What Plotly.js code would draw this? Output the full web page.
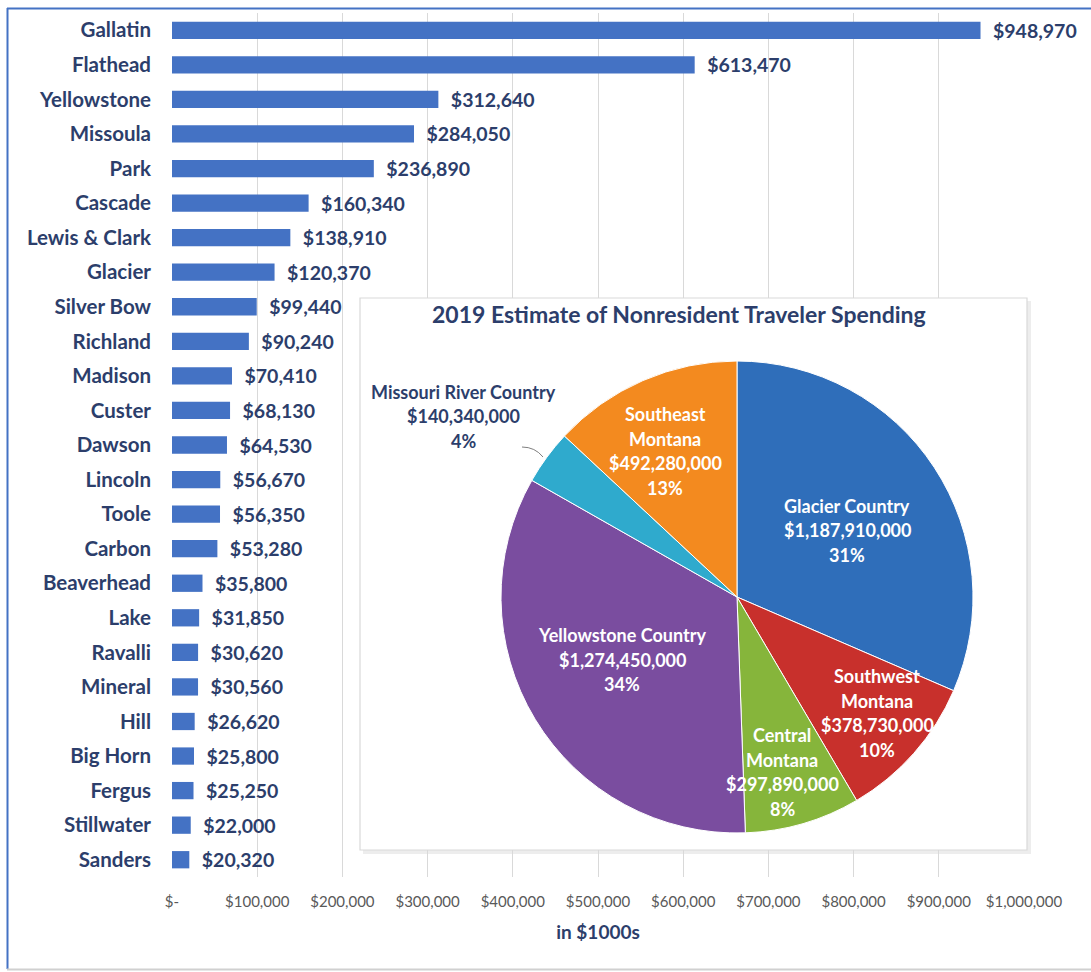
<!DOCTYPE html>
<html>
<head>
<meta charset="utf-8">
<script src="https://cdn.plot.ly/plotly-3.0.1.min.js"></script>
<style>
  html, body { margin: 0; padding: 0; background: #ffffff; }
  #chart { width: 1091px; height: 972px; }
</style>
</head>
<body>
<div id="chart"></div>
<script>
// ---------- Data ----------
const counties = ["Gallatin","Flathead","Yellowstone","Missoula","Park","Cascade","Lewis & Clark","Glacier","Silver Bow","Richland","Madison","Custer","Dawson","Lincoln","Toole","Carbon","Beaverhead","Lake","Ravalli","Mineral","Hill","Big Horn","Fergus","Stillwater","Sanders"];
const spending = [948970,613470,312640,284050,236890,160340,138910,120370,99440,90240,70410,68130,64530,56670,56350,53280,35800,31850,30620,30560,26620,25800,25250,22000,20320];

const tickVals = [0,100000,200000,300000,400000,500000,600000,700000,800000,900000,1000000];
const tickText = ["$-","$100,000","$200,000","$300,000","$400,000","$500,000","$600,000","$700,000","$800,000","$900,000","$1,000,000"];

const regions = ["Glacier Country","Southwest Montana","Central Montana","Yellowstone Country","Missouri River Country","Southeast Montana"];
const regionLabelLines = [["Glacier Country"],["Southwest","Montana"],["Central","Montana"],["Yellowstone Country"],["Missouri River Country"],["Southeast","Montana"]];
const regionValues = [1187910000,378730000,297890000,1274450000,140340000,492280000];

const pieTitle = "2019 Estimate of Nonresident Traveler Spending";
const xAxisTitle = "in $1000s";

// ---------- Styling / layout helpers ----------
const regionColors = ["#2F6EBA","#C8302C","#86B53B","#7A4D9F","#2FAACD","#F38A1F"];
const regionTextColors = ["#ffffff","#ffffff","#ffffff","#ffffff","#2C3E6B","#ffffff"];
// label centres (pixel coords of first line) for pie slice labels
const labelPx = [[847,506],[877,676],[782,735],[622,635],[463,392],[665,414]];

const W = 1091, H = 972;
const M = {l:172, r:67, t:13, b:95};
const PW = W - M.l - M.r, PH = H - M.t - M.b;
const px2x = p => (p - M.l) / PW;
const py2y = p => (H - M.b - p) / PH;

const navy = "#2C3E6B";
const FONT = "Lato, 'Open Sans', sans-serif";

const fmt = v => "$" + v.toLocaleString("en-US");
const total = regionValues.reduce((a,b)=>a+b,0);

// ---------- Traces ----------
const barTrace = {
  type: "bar",
  orientation: "h",
  x: spending,
  y: counties,
  width: 0.5,
  marker: {color: "#4472C4"},
  texttemplate: "\u00A0\u00A0$%{x:,.0f}",
  textposition: "outside",
  cliponaxis: false,
  constraintext: "none",
  textfont: {family: FONT, size: 19.5, color: navy, weight: "bold"},
  hoverinfo: "skip"
};

const pieDomainPx = {cx: 737, cy: 597, r: 236};
const pieTrace = {
  type: "pie",
  labels: regions,
  values: regionValues,
  sort: false,
  direction: "clockwise",
  rotation: 0,
  textinfo: "none",
  marker: {colors: regionColors, line: {color: "#ffffff", width: 1}},
  domain: {
    x: [px2x(pieDomainPx.cx - pieDomainPx.r), px2x(pieDomainPx.cx + pieDomainPx.r)],
    y: [py2y(pieDomainPx.cy + pieDomainPx.r), py2y(pieDomainPx.cy - pieDomainPx.r)]
  },
  showlegend: false,
  hoverinfo: "skip"
};

// ---------- Annotations ----------
const annotations = [];
annotations.push({
  xref: "paper", yref: "paper", x: px2x(679), y: py2y(314),
  text: pieTitle, showarrow: false, xanchor: "center", yanchor: "middle",
  font: {family: FONT, size: 23, color: navy, weight: "bold"}
});
const lineGap = 24.5;
regions.forEach((r, i) => {
  const pct = Math.round(regionValues[i] / total * 100) + "%";
  const lines = regionLabelLines[i].concat([fmt(regionValues[i]), pct]);
  lines.forEach((ln, k) => {
    annotations.push({
      xref: "paper", yref: "paper",
      x: px2x(labelPx[i][0]), y: py2y(labelPx[i][1] + k * lineGap),
      text: ln, showarrow: false, xanchor: "center", yanchor: "middle",
      font: {family: FONT, size: 18, color: regionTextColors[i], weight: "bold"}
    });
  });
});

// ---------- Shapes ----------
const xv = p => (p - M.l) / PW * 1000000;         // pixel -> x data
const yv = p => -0.5 + (p - M.t) / (PH / counties.length); // pixel -> category index
const box = {x0: 360, x1: 1027, y0: 298, y1: 850};
const shapes = [
  // inset shadow (under everything)
  {type: "rect", xref: "paper", yref: "paper", layer: "below",
   x0: px2x(box.x0 + 3), x1: px2x(box.x1 + 4), y0: py2y(box.y0 + 3), y1: py2y(box.y1 + 4),
   fillcolor: "rgba(0,0,0,0.07)", line: {width: 0}},
  {type: "rect", xref: "paper", yref: "paper", layer: "below",
   x0: px2x(box.x0), x1: px2x(box.x1), y0: py2y(box.y0), y1: py2y(box.y1),
   fillcolor: "#ffffff", line: {width: 0}},
  // inset fill hiding the gridlines inside the plot area
  {type: "rect", xref: "x", yref: "y", layer: "between",
   x0: xv(box.x0), x1: 1000000 + 2000, y0: yv(box.y0), y1: yv(box.y1),
   fillcolor: "#ffffff", line: {width: 0}},
  // inset border
  {type: "rect", xref: "paper", yref: "paper", layer: "above",
   x0: px2x(box.x0), x1: px2x(box.x1), y0: py2y(box.y0), y1: py2y(box.y1),
   fillcolor: "rgba(0,0,0,0)", line: {color: "#D9D9D9", width: 1.2}},
  // leader line for Missouri River Country
  {type: "path", xref: "paper", yref: "paper", layer: "above",
   path: `M ${px2x(522)} ${py2y(447)} Q ${px2x(535)} ${py2y(447)} ${px2x(543)} ${py2y(457)}`,
   line: {color: "#7F7F7F", width: 1}},
  // outer frame: left & top blue
  {type: "line", xref: "paper", yref: "paper", layer: "above",
   x0: px2x(7.5), x1: px2x(7.5), y0: py2y(8), y1: py2y(969),
   line: {color: "#4472C4", width: 2}},
  {type: "line", xref: "paper", yref: "paper", layer: "above",
   x0: px2x(7), x1: px2x(1095), y0: py2y(8.5), y1: py2y(8.5),
   line: {color: "#4472C4", width: 2}},
  // bottom gray
  {type: "line", xref: "paper", yref: "paper", layer: "above",
   x0: px2x(7), x1: px2x(1095), y0: py2y(969.5), y1: py2y(969.5),
   line: {color: "#D0D0D0", width: 2}}
];

// ---------- Layout ----------
const layout = {
  width: W, height: H,
  margin: M,
  paper_bgcolor: "rgba(0,0,0,0)",
  plot_bgcolor: "rgba(0,0,0,0)",
  showlegend: false,
  font: {family: FONT, color: navy},
  xaxis: {
    range: [0, 1000000],
    tickvals: tickVals,
    ticktext: tickText,
    showgrid: true,
    gridcolor: "#D9D9D9",
    gridwidth: 1,
    zeroline: false,
    showline: false,
    ticks: "",
    ticklabelstandoff: 14,
    tickfont: {family: FONT, size: 15, color: "#595959"},
    title: {text: xAxisTitle, standoff: 16,
            font: {family: FONT, size: 19, color: navy, weight: "bold"}},
    fixedrange: true
  },
  yaxis: {
    type: "category",
    range: [counties.length - 0.5, -0.5],
    showgrid: false,
    zeroline: false,
    showline: false,
    ticks: "",
    ticklabelstandoff: 20,
    tickfont: {family: FONT, size: 20.5, color: navy, weight: "bold"},
    fixedrange: true
  },
  annotations: annotations,
  shapes: shapes
};

Plotly.newPlot("chart", [barTrace, pieTrace], layout, {staticPlot: true, displayModeBar: false});
</script>
</body>
</html>
